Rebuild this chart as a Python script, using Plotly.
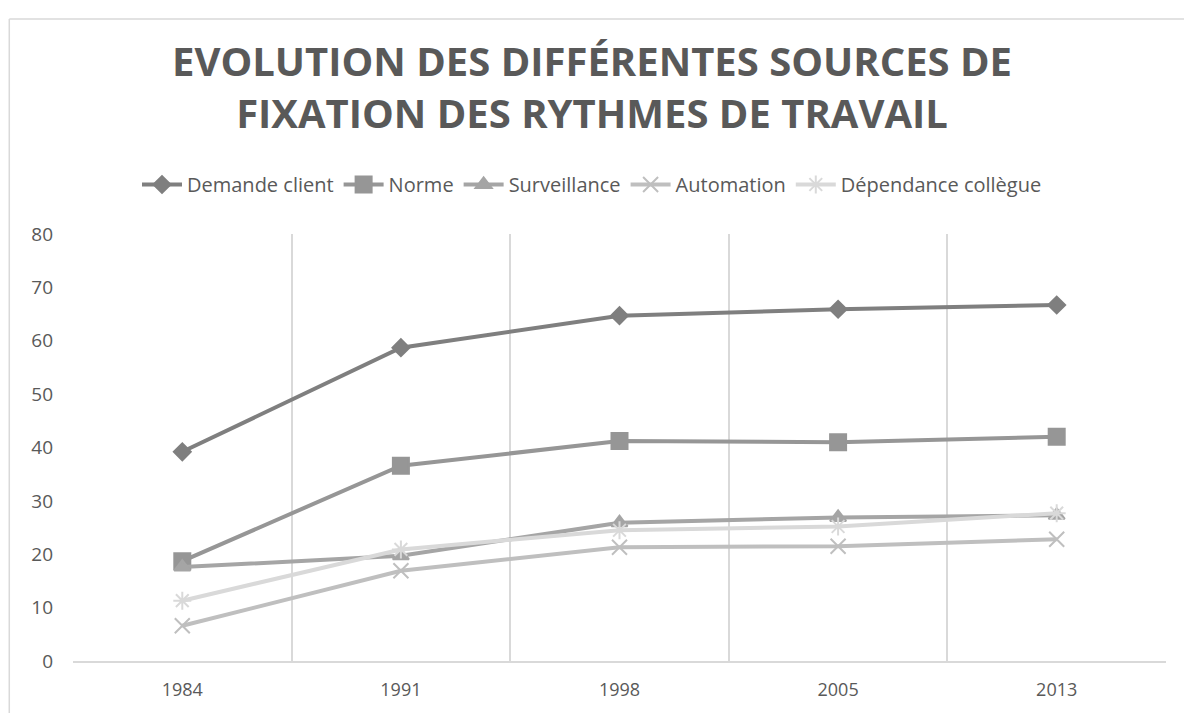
import plotly.graph_objects as go

years = ["1984", "1991", "1998", "2005", "2013"]
series_names = ["Demande client", "Norme", "Surveillance", "Automation", "Dépendance collègue"]
demande_client = [39.2, 58.7, 64.7, 65.9, 66.7]
norme = [18.7, 36.6, 41.2, 41.0, 42.0]
surveillance = [17.6, 19.7, 25.9, 26.9, 27.3]
automation = [6.6, 16.9, 21.3, 21.5, 22.8]
dependance = [11.3, 20.9, 24.5, 25.2, 27.7]

values = [demande_client, norme, surveillance, automation, dependance]
colors = ["#7f7f7f", "#969696", "#a5a5a5", "#bfbfbf", "#d9d9d9"]
symbols = ["diamond", "square", "triangle-up", "x-thin-open", "asterisk-open"]
sizes = [13, 16, 14, 15, 15]

fig = go.Figure()
for name, vals, c, s, sz in zip(series_names, values, colors, symbols, sizes):
    fig.add_trace(go.Scatter(
        x=years, y=vals, name=name, mode="lines+markers",
        line=dict(color=c, width=4),
        marker=dict(symbol=s, size=sz, color=c, line=dict(color=c, width=2)),
    ))

fig.update_layout(
    width=1184, height=713,
    margin=dict(l=73, r=18, t=234, b=44),
    paper_bgcolor="white", plot_bgcolor="white",
    font=dict(family="Open Sans", color="#595959"),
    title=dict(
        text="EVOLUTION DES DIFFÉRENTES SOURCES DE<br>FIXATION DES RYTHMES DE TRAVAIL",
        x=0.5, xanchor="center", xref="container",
        y=1 - 76 / 713, yanchor="top", yref="container",
        font=dict(family="Open Sans", size=40, color="#595959", weight="bold"),
    ),
    legend=dict(
        orientation="h", x=0.5, xanchor="center", xref="container",
        y=1 - 165 / 713, yanchor="top", yref="container",
        font=dict(size=20, color="#595959"),
        itemwidth=40,
    ),
    xaxis=dict(
        type="category", range=[-0.5, 4.5],
        tickson="boundaries", showgrid=True, gridcolor="#d9d9d9", gridwidth=1.5,
        showline=True, linecolor="#d9d9d9", linewidth=1.5,
        ticks="", tickfont=dict(size=18, color="#595959"),
        ticklabelstandoff=12,
        zeroline=False,
    ),
    yaxis=dict(
        range=[0, 80], dtick=10, showgrid=False, zeroline=False,
        showline=False, ticks="", tickfont=dict(size=19, color="#595959"),
        ticklabelstandoff=19,
    ),
    shapes=[
        dict(type="line", xref="paper", yref="paper",
             x0=(9 - 73) / 1098, x1=(9 - 73) / 1098, y0=1 + (234 - 15) / 435, y1=-0.2,
             line=dict(color="#d9d9d9", width=1.5)),
        dict(type="line", xref="paper", yref="paper",
             x0=(9 - 73) / 1098, x1=1.1, y0=1 + (234 - 15) / 435, y1=1 + (234 - 15) / 435,
             line=dict(color="#d9d9d9", width=1.5)),
    ],
)

fig.write_html("out.html", config={"displayModeBar": False},
               post_script="document.body.style.margin='0';")
